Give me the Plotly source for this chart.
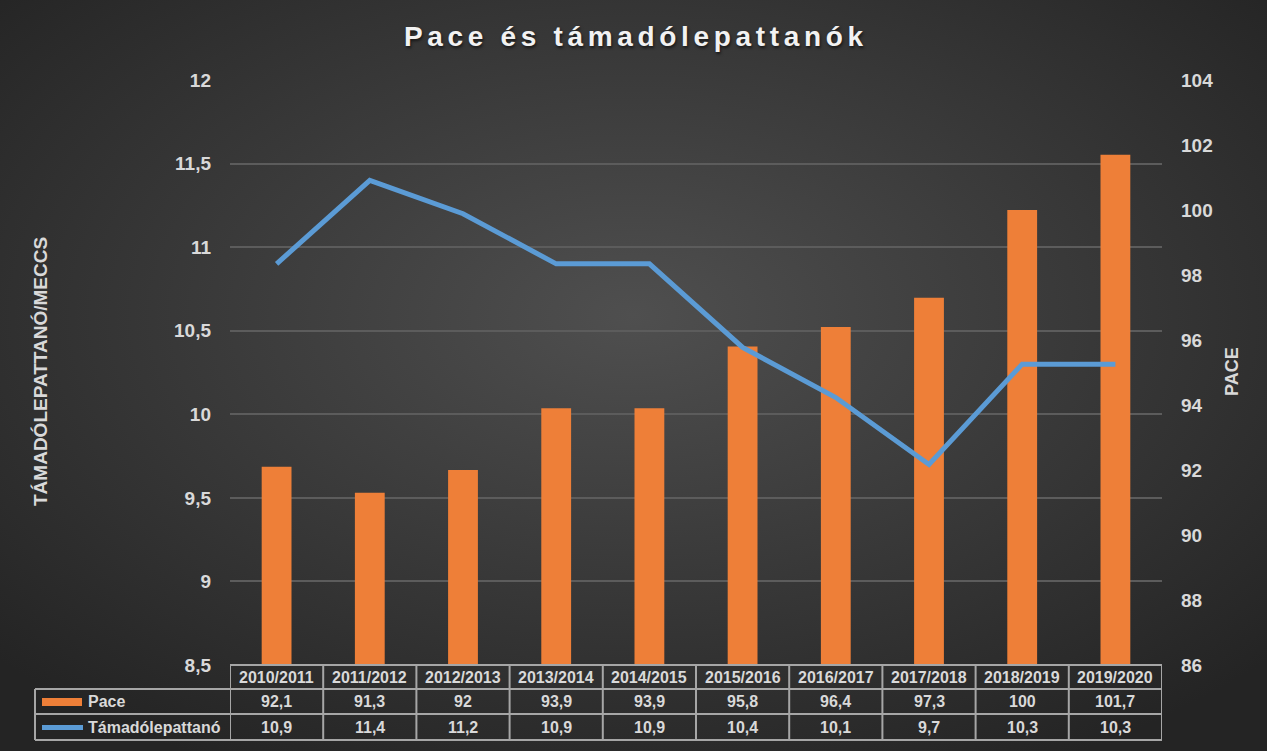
import base64
import plotly.graph_objects as go

# ---------------- data ----------------
seasons = ["2010/2011", "2011/2012", "2012/2013", "2013/2014", "2014/2015",
           "2015/2016", "2016/2017", "2017/2018", "2018/2019", "2019/2020"]
pace = [92.1, 91.3, 92.0, 93.9, 93.9, 95.8, 96.4, 97.3, 100.0, 101.7]
rebounds = [10.9, 11.4, 11.2, 10.9, 10.9, 10.4, 10.1, 9.7, 10.3, 10.3]
series_names = ["Pace", "Támadólepattanó"]
title_text = "Pace és támadólepattanók"
left_title = "TÁMADÓLEPATTANÓ/MECCS"
right_title = "PACE"

# ---------------- style ----------------
W, H = 1267, 751
ML, MR, MT, MB = 230, 105, 80, 86
PW, PH = W - ML - MR, H - MT - MB
FONT = "Liberation Sans, Arial, sans-serif"
TXT = "#d9d9d9"
ORANGE = "#ee7f38"
BLUE = "#5b9bd5"
BORDER = "#a6a6a6"


def fmt(v):
    return f"{v:g}".replace(".", ",")


def py(px):  # pixel y -> paper y
    return (MT + PH - px) / PH


def pxx(px):  # pixel x -> paper x
    return (px - ML) / PW


fig = go.Figure()

# bars (Pace) on main y axis (right side)
fig.add_trace(go.Bar(
    x=seasons, y=pace, name=series_names[0], yaxis="y",
    marker=dict(color=ORANGE, line=dict(width=0)), width=0.32,
    showlegend=False, hoverinfo="skip",
))
# line (rebounds) on y2 (left side), drawn on top
fig.add_trace(go.Scatter(
    x=seasons, y=rebounds, name=series_names[1], yaxis="y2",
    mode="lines", line=dict(color=BLUE, width=5),
    showlegend=False, hoverinfo="skip",
))

# background radial gradient as an svg image
svg = f'''<svg xmlns="http://www.w3.org/2000/svg" width="{W}" height="{H}" viewBox="0 0 {W} {H}" preserveAspectRatio="none">
<defs><radialGradient id="g" cx="50%" cy="42%" r="68%" fx="50%" fy="42%">
<stop offset="0%" stop-color="#4f4f4f"/><stop offset="100%" stop-color="#242424"/></radialGradient></defs>
<rect width="{W}" height="{H}" fill="url(#g)"/></svg>'''
src = "data:image/svg+xml;base64," + base64.b64encode(svg.encode()).decode()

shapes = []
annotations = []

# table geometry (pixels)
t_top, r1, r2, t_bot = 665, 689, 714, 740
left_edge = 35
n = len(seasons)

# horizontal lines
shapes.append(dict(type="line", xref="x", yref="paper", x0=-0.5, x1=n - 0.5,
                   y0=py(t_top), y1=py(t_top), line=dict(color=BORDER, width=2)))
for yy in (r1, r2, t_bot):
    shapes.append(dict(type="line", xref="paper", yref="paper", x0=pxx(left_edge), x1=1,
                       y0=py(yy), y1=py(yy), line=dict(color=BORDER, width=2)))
# vertical lines
for i in range(n + 1):
    shapes.append(dict(type="line", xref="x", yref="paper", x0=i - 0.5, x1=i - 0.5,
                       y0=py(t_top), y1=py(t_bot), line=dict(color=BORDER, width=2)))
shapes.append(dict(type="line", xref="paper", yref="paper", x0=pxx(left_edge), x1=pxx(left_edge),
                   y0=py(r1), y1=py(t_bot), line=dict(color=BORDER, width=2)))

# legend keys
shapes.append(dict(type="rect", xref="paper", yref="paper", x0=pxx(42), x1=pxx(82),
                   y0=py(706), y1=py(698), fillcolor=ORANGE, line=dict(width=0)))
shapes.append(dict(type="line", xref="paper", yref="paper", x0=pxx(42), x1=pxx(83),
                   y0=py(727.5), y1=py(727.5), line=dict(color=BLUE, width=5)))

cell_font = dict(family=FONT, size=16, color=TXT, weight="bold")
for i, s in enumerate(seasons):
    annotations.append(dict(x=i, y=py((t_top + r1) / 2), xref="x", yref="paper", text=s,
                            showarrow=False, font=cell_font, xanchor="center", yanchor="middle"))
    annotations.append(dict(x=i, y=py((r1 + r2) / 2), xref="x", yref="paper", text=fmt(pace[i]),
                            showarrow=False, font=cell_font, xanchor="center", yanchor="middle"))
    annotations.append(dict(x=i, y=py((r2 + t_bot) / 2), xref="x", yref="paper", text=fmt(rebounds[i]),
                            showarrow=False, font=cell_font, xanchor="center", yanchor="middle"))
annotations.append(dict(x=pxx(86), y=py((r1 + r2) / 2), xref="paper", yref="paper", text=series_names[0],
                        showarrow=False, font=cell_font, xanchor="left", yanchor="middle"))
annotations.append(dict(x=pxx(86), y=py((r2 + t_bot) / 2), xref="paper", yref="paper", text=series_names[1],
                        showarrow=False, font=cell_font, xanchor="left", yanchor="middle"))

# axis titles
annotations.append(dict(x=pxx(40), y=py(372), xref="paper", yref="paper", text=left_title,
                        textangle=-90, showarrow=False,
                        font=dict(family=FONT, size=19, color=TXT, weight="bold"),
                        xanchor="center", yanchor="middle"))
annotations.append(dict(x=pxx(1232), y=py(372), xref="paper", yref="paper", text=right_title,
                        textangle=-90, showarrow=False,
                        font=dict(family=FONT, size=18, color=TXT, weight="bold"),
                        xanchor="center", yanchor="middle"))

spaced_title = "\u200a\u200a".join(list(title_text))

fig.update_layout(
    width=W, height=H,
    margin=dict(l=ML, r=MR, t=MT, b=MB, pad=0),
    paper_bgcolor="#2e2e2e",
    plot_bgcolor="rgba(0,0,0,0)",
    separators=", ",
    font=dict(family=FONT, color=TXT),
    title=dict(text=spaced_title, x=0.5, xref="container", xanchor="center",
               y=1 - 36 / H, yref="container", yanchor="middle",
               font=dict(family=FONT, size=28, color="#f2f2f2", weight="bold",
                         shadow="1px 2px 3px rgba(0,0,0,0.6)")),
    xaxis=dict(type="category", range=[-0.5, n - 0.5], showticklabels=False,
               showgrid=False, zeroline=False, showline=False, ticks=""),
    yaxis=dict(side="right", range=[86, 104], dtick=2, showgrid=False, zeroline=False,
               showline=False, ticks="", ticklabelstandoff=18,
               tickfont=dict(family=FONT, size=19, color=TXT, weight="bold")),
    yaxis2=dict(side="left", overlaying="y", range=[8.5, 12], dtick=0.5,
                showgrid=True, gridcolor="#5c5c5c", gridwidth=1.5, zeroline=False,
                showline=False, ticks="", ticklabelstandoff=18,
                tickfont=dict(family=FONT, size=19, color=TXT, weight="bold")),
    bargap=0.68,
    shapes=shapes,
    annotations=annotations,
    images=[dict(source=src, xref="paper", yref="paper",
                 x=-ML / PW, y=(PH + MT) / PH, sizex=W / PW, sizey=H / PH,
                 xanchor="left", yanchor="top", sizing="stretch", layer="below")],
    showlegend=False,
)

fig.write_html("out.html")
